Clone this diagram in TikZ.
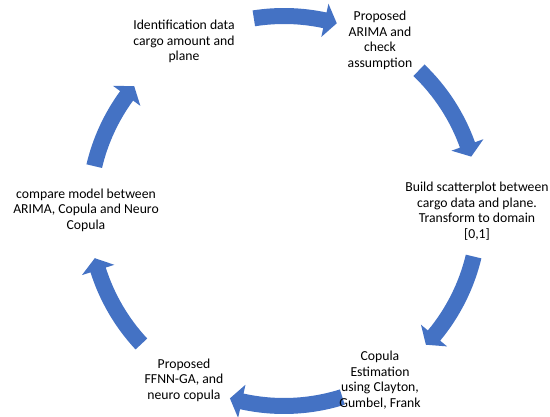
\documentclass[tikz,border=0pt]{standalone}
\usepackage{fontspec}
\setmainfont{Carlito}
\usetikzlibrary{calc}
\definecolor{sablue}{HTML}{4472C4}
\tikzset{
  lbl/.style={align=center, font=\fontsize{13.7}{15.5}\selectfont, inner sep=0pt, text=black},
  cyc/.style={fill=sablue, draw=none}
}
% #1 start angle, #2 tip angle (clockwise arrow)
\newcommand{\cycarrow}[2]{%
  \pgfmathsetmacro\myab{#2+3.6}%
  \path[cyc] ($(O)+(#1:203pt)$) arc[start angle=#1, end angle=\myab, radius=203pt]
    -- ($(O)+(\myab:212pt)$) -- ($(O)+(#2:195pt)$) -- ($(O)+(\myab:178pt)$)
    -- ($(O)+(\myab:187pt)$) arc[start angle=\myab, end angle=#1, radius=187pt] -- cycle;}
\begin{document}
\begin{tikzpicture}[x=1pt,y=1pt]
\path[use as bounding box] (0,0) rectangle (550,-417);
\coordinate (O) at (284,-211);
\cycarrow{98.9}{74.3}
\cycarrow{46.2}{16.2}
\cycarrow{-13.5}{-43.3}
\cycarrow{-72.6}{-106.1}
\cycarrow{-137}{-166}
\cycarrow{166.7}{140.2}
\node[lbl] (a) at (184,-41.5) {Identification data\\cargo amount and\\plane};
\node[lbl] (b) at (380,-40.5) {Proposed\\ARIMA and\\check\\assumption};
\node[lbl] (c) at (477,-211) {Build scatterplot between\\cargo data and plane.\\Transform to domain\\{[0,1]}};
\node[lbl] (d) at (380,-380) {Copula\\Estimation\\using Clayton,\\Gumbel, Frank};
\node[lbl] (e) at (184,-380) {Proposed\\FFNN-GA, and\\neuro copula};
\node[lbl] (f) at (86,-210) {compare model between\\ARIMA, Copula and Neuro\\Copula};
\end{tikzpicture}
\end{document}
